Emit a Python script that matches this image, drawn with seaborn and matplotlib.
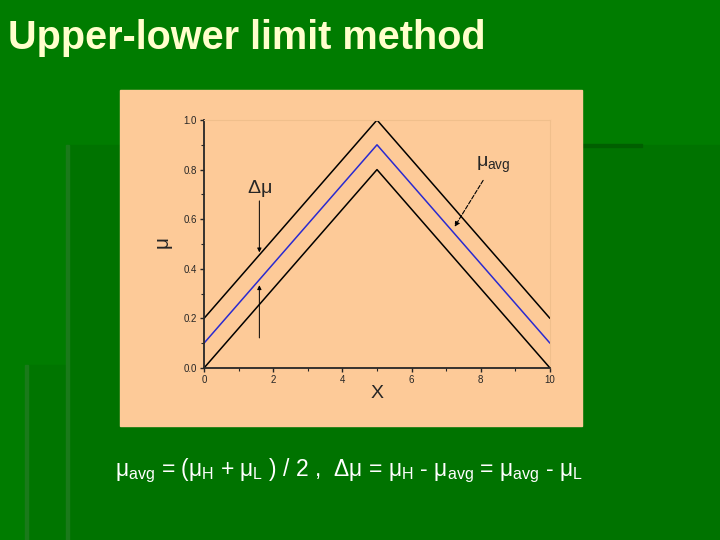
import matplotlib
matplotlib.use("Agg")
import matplotlib.pyplot as plt
import matplotlib.patches as mpatches
import pandas as pd
import seaborn as sns

# data: membership limits
x = [0, 5, 10]
mu_H = [0.2, 1.0, 0.2]
mu_avg = [0.1, 0.9, 0.1]
mu_L = [0.0, 0.8, 0.0]

sns.set_style("ticks")
plt.rcParams['font.family'] = ['Liberation Sans', 'DejaVu Sans']
plt.rcParams['mathtext.fontset'] = 'custom'
plt.rcParams['mathtext.rm'] = 'Liberation Sans'
plt.rcParams['mathtext.it'] = 'Liberation Sans'

green = '#007c00'
peach = '#fdca98'

fig = plt.figure(figsize=(7.2, 5.4), dpi=100)
fig.patch.set_facecolor(green)

# slide decoration
fig.add_artist(mpatches.Rectangle((68/720, 0), 1, 1 - 145/540, transform=fig.transFigure,
                                  color='#007300', zorder=0))
fig.add_artist(mpatches.Rectangle((26/720, 0), 42/720, 1 - 365/540, transform=fig.transFigure,
                                  color='#007500', zorder=0))
fig.add_artist(mpatches.Rectangle((580/720, 1 - 147/540), 62/720, 3/540, transform=fig.transFigure,
                                  color='#005f00', zorder=0))
fig.add_artist(mpatches.Rectangle((66/720, 0), 3/720, 1 - 145/540, transform=fig.transFigure,
                                  color='#1a7a1a', zorder=0))
fig.add_artist(mpatches.Rectangle((25/720, 0), 3/720, 1 - 365/540, transform=fig.transFigure,
                                  color='#1a7a1a', zorder=0))
# peach picture panel
fig.add_artist(mpatches.Rectangle((120/720, 1 - 426/540), 462/720, 336/540,
                                  transform=fig.transFigure, color=peach, zorder=1))

fig.text(8/720, 1 - 38/540, "Upper-lower limit method", color='#ffffcc', fontsize=28.5,
         fontweight='bold', va='center', ha='left')

ax = fig.add_axes([204/720, 1 - 368/540, 346/720, 248/540])
ax.set_facecolor(peach)
ax.set_zorder(2)

df = pd.DataFrame({'X': x * 3,
                   'mu': mu_H + mu_avg + mu_L,
                   'series': ['H'] * 3 + ['avg'] * 3 + ['L'] * 3})
sns.lineplot(data=df, x='X', y='mu', hue='series',
             palette={'H': 'black', 'avg': '#2a2ad0', 'L': 'black'},
             linewidth=1.1, legend=False, ax=ax)

ax.set_xlim(0, 10)
ax.set_ylim(0, 1.0)
ax.set_xticks([0, 2, 4, 6, 8, 10])
ax.set_yticks([0.0, 0.2, 0.4, 0.6, 0.8, 1.0])
ax.set_xticks(range(0, 11), minor=True)
ax.set_yticks([i / 10 for i in range(11)], minor=True)
ax.set_yticklabels(['0.0', '0.2', '0.4', '0.6', '0.8', '1.0'])
ax.tick_params(which='major', length=3, width=1, labelsize=7, pad=2)
ax.tick_params(which='minor', length=2, width=0.8)
ax.set_xlabel("X", fontsize=14, labelpad=0)
ax.set_ylabel(r"$\mu$", fontsize=15, labelpad=6)
for s in ['left', 'bottom']:
    ax.spines[s].set_linewidth(1.3)
for s in ['top', 'right']:
    ax.spines[s].set_color('#f0bf8c')
    ax.spines[s].set_linewidth(0.8)

# annotations
ax.text(1.6, 0.68, r"$\Delta\mu$", fontsize=14, ha='center', va='bottom')
ax.annotate("", xy=(1.6, 0.455), xytext=(1.6, 0.685),
            arrowprops=dict(arrowstyle='-|>', color='black', lw=0.7, mutation_scale=6))
ax.annotate("", xy=(1.6, 0.345), xytext=(1.6, 0.11),
            arrowprops=dict(arrowstyle='-|>', color='black', lw=0.7, mutation_scale=6))
ax.annotate(r"$\mu_{avg}$", xy=(7.2, 0.56), xytext=(7.85, 0.82), fontsize=14,
            ha='left', va='center',
            arrowprops=dict(arrowstyle='-|>', color='black', lw=0.8, ls='--',
                            mutation_scale=7, shrinkA=2))

fig.text(115/720, 1 - 471/540,
         r"$\mu_{avg}$ = ($\mu_H$ + $\mu_L$ ) / 2 ,  $\Delta\mu$ = $\mu_H$ - $\mu_{avg}$ = $\mu_{avg}$ - $\mu_L$",
         color='white', fontsize=16.5, ha='left', va='center')

fig.savefig("out.png", dpi=100, facecolor=fig.get_facecolor())
